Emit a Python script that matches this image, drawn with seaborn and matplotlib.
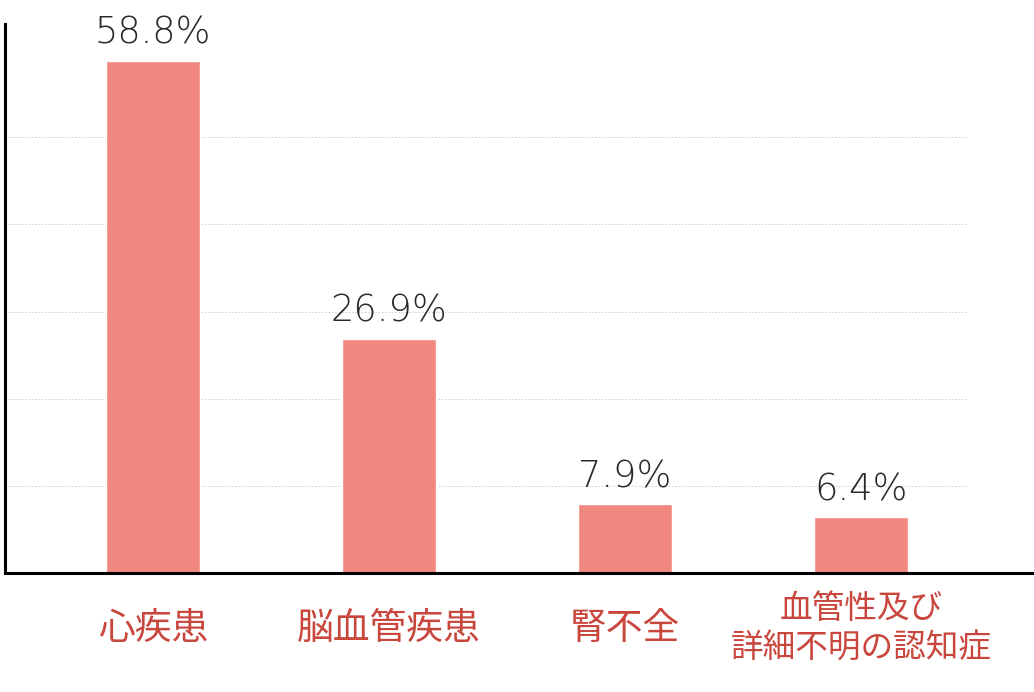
import seaborn as sns
import matplotlib.pyplot as plt
import pandas as pd

categories = ['心疾患', '脳血管疾患', '腎不全', '血管性及び\n詳細不明の認知症']
values = [58.8, 26.9, 7.9, 6.4]
value_labels = ['58.8%', '26.9%', '7.9%', '6.4%']
grid_levels = [10, 20, 30, 40, 50]

sns.set_style('white')
plt.rcParams['font.family'] = ['Noto Sans CJK JP', 'DejaVu Sans']

df = pd.DataFrame({'category': categories, 'value': values})

fig = plt.figure(figsize=(10.34, 6.92), dpi=100)
ax = fig.add_axes([5 / 1034, 1 - 573 / 692, 1027 / 1034, (573 - 24) / 692])

for g in grid_levels:
    ax.axhline(g, xmin=0.003, xmax=0.937, color='#cccccc', linestyle=(0, (2, 2)),
               linewidth=0.6, zorder=0)

sns.barplot(data=df, x='category', y='value', color='#F0887F', width=0.4,
            saturation=1, ax=ax, zorder=2)

ax.bar_label(ax.containers[0], labels=value_labels, padding=7, fontsize=26.5,
             color='#2a2a2a', family=['DejaVu Sans'], fontweight='light')

ax.set_xlim(-0.627, 3.725)
ax.set_ylim(0, 63)
ax.set_xlabel('')
ax.set_ylabel('')
ax.set_yticks([])

ax.tick_params(axis='x', length=0, pad=40, labelsize=26.5, labelcolor='#C9463D')
for lbl in ax.get_xticklabels():
    lbl.set_va('center')
    lbl.set_multialignment('center')
    if '\n' in lbl.get_text():
        # the two-line label is set a little smaller in the original
        lbl.set_fontsize(23.5)
        lbl.set_linespacing(1.3)

for side in ['top', 'right']:
    ax.spines[side].set_visible(False)
for side in ['left', 'bottom']:
    ax.spines[side].set_color('black')
    ax.spines[side].set_linewidth(2.2)

fig.savefig('out.png', dpi=100)
plt.close()
